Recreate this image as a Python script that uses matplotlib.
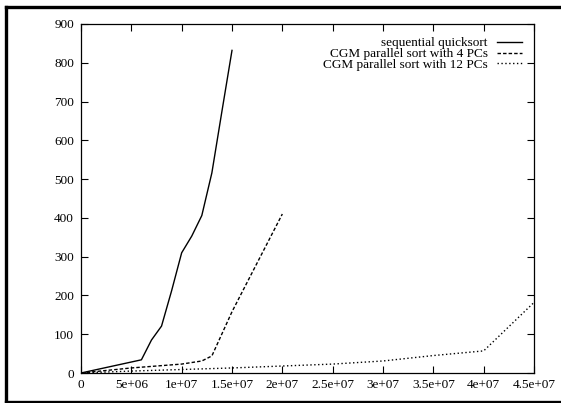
import matplotlib
matplotlib.use("Agg")
import matplotlib.pyplot as plt
from matplotlib.lines import Line2D

# Data
seq_x = [0, 6e6, 7e6, 8e6, 9e6, 10e6, 11e6, 12e6, 13e6, 14e6, 15e6]
seq_y = [0, 34, 85, 121, 212, 310, 353, 406, 516, 675, 832]

p4_x = [0, 5e6, 10e6, 12e6, 13e6, 15e6, 20e6]
p4_y = [0, 13, 23, 31, 44, 158, 410]

p12_x = [0, 5e6, 10e6, 15e6, 20e6, 25e6, 30e6, 35e6, 40e6, 45e6]
p12_y = [0, 5, 9, 13, 18, 23, 31, 45, 57, 182]

labels = ["sequential quicksort", "CGM parallel sort with 4 PCs", "CGM parallel sort with 12 PCs"]
xticks = [0, 5e6, 1e7, 1.5e7, 2e7, 2.5e7, 3e7, 3.5e7, 4e7, 4.5e7]
xticklabels = ["0", "5e+06", "1e+07", "1.5e+07", "2e+07", "2.5e+07", "3e+07", "3.5e+07", "4e+07", "4.5e+07"]
yticks = [0, 100, 200, 300, 400, 500, 600, 700, 800, 900]

plt.rcParams['font.family'] = ['Liberation Serif', 'DejaVu Serif']
W, H = 561, 403
fig = plt.figure(figsize=(W / 100, H / 100), dpi=100)
ax = fig.add_axes([81 / W, 1 - 373 / H, (534 - 81) / W, (373 - 24) / H])

ax.plot(seq_x, seq_y, color='black', lw=1.0, linestyle='-', label=labels[0])
ax.plot(p4_x, p4_y, color='black', lw=1.0, linestyle=(0, (2.5, 1.5)), label=labels[1])
ax.plot(p12_x, p12_y, color='black', lw=1.0, linestyle=(0, (1, 1.8)), label=labels[2])

ax.set_xlim(0, 4.5e7)
ax.set_ylim(0, 900)
ax.set_xticks(xticks)
ax.set_xticklabels(xticklabels)
ax.set_yticks(yticks)
ax.tick_params(direction='in', top=True, right=True, length=5, width=0.8,
               labelsize=9.5, colors='black', pad=5)
ax.tick_params(axis='x', pad=4)
for s in ax.spines.values():
    s.set_linewidth(0.9)

leg = ax.legend(loc='upper right', frameon=False, markerfirst=False, fontsize=9.5,
                handlelength=1.9, handletextpad=0.7, labelspacing=-0.12,
                borderaxespad=0, borderpad=0, bbox_to_anchor=(0.9735, 0.962))

# outer frame (left, top, bottom; right edge cropped away)
for xs, ys in [([5.5, 5.5], [6.5, 401.5]),
               ([5.5, W + 5], [6.5, 6.5]),
               ([5.5, W + 5], [401.5, 401.5])]:
    fig.add_artist(Line2D([x / W for x in xs], [1 - y / H for y in ys],
                          transform=fig.transFigure, color='black', lw=2.4,
                          solid_capstyle='projecting'))

fig.savefig("out.png", dpi=100)
